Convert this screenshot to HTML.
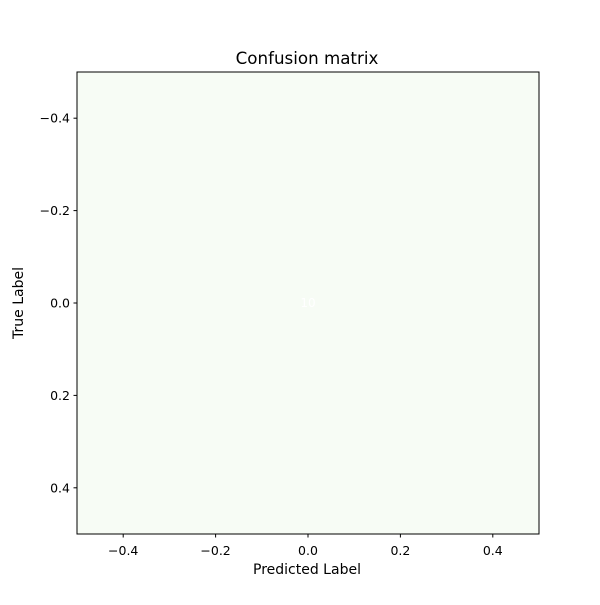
<!DOCTYPE html>
<html><head><meta charset="utf-8"><style>
body{margin:0;background:#fff}
svg text{font-family:"DejaVu Sans","Liberation Sans",sans-serif}
</style></head><body>
<svg id="chart" width="600" height="600" viewBox="0 0 600 600">
<rect width="600" height="600" fill="#fff"/>
<text x="307" y="64" font-size="16.7" text-anchor="middle">Confusion matrix</text>
<g id="cells"></g>
<rect x="77" y="72" width="462" height="462" fill="none" stroke="#000" stroke-width="1"/>
<g id="xt"></g><g id="yt"></g>
<text x="307" y="574" font-size="14" text-anchor="middle">Predicted Label</text>
<text transform="translate(23,303) rotate(-90)" font-size="14" text-anchor="middle">True Label</text>
</svg>
<script>
const matrixValues=[[10]];
const cellLabels=[["10"]];
const xTicks=[-0.4,-0.2,0.0,0.2,0.4];
const yTicks=[-0.4,-0.2,0.0,0.2,0.4];
const NS="http://www.w3.org/2000/svg";
const X=v=>77+(v+0.5)*462, Y=v=>72+(v+0.5)*462;
const cells=document.getElementById('cells');
matrixValues.forEach((row,i)=>row.forEach((v,j)=>{
 const r=document.createElementNS(NS,'rect');
 r.setAttribute('x',X(j-0.5));r.setAttribute('y',Y(i-0.5));
 r.setAttribute('width',X(j+0.5)-X(j-0.5));r.setAttribute('height',Y(i+0.5)-Y(i-0.5));
 r.setAttribute('fill','#f7fcf5');
 
 
 cells.appendChild(r);
 const t=document.createElementNS(NS,'text');
 t.setAttribute('x',X(j));t.setAttribute('y',Y(i)+4);t.setAttribute('font-size','12');
 t.setAttribute('text-anchor','middle');t.setAttribute('fill','#ffffff');
 t.textContent=cellLabels[i][j];
 
 
 cells.appendChild(t);
}));
const fmt=v=>(v<0?'\u2212':'')+Math.abs(v).toFixed(1);
const xt=document.getElementById('xt'),yt=document.getElementById('yt');
xTicks.forEach(v=>{
 const l=document.createElementNS(NS,'line');
 l.setAttribute('x1',X(v));l.setAttribute('x2',X(v));l.setAttribute('y1',534);l.setAttribute('y2',537.5);l.setAttribute('stroke','#000');
 
 
 xt.appendChild(l);
 const t=document.createElementNS(NS,'text');
 t.setAttribute('x',X(v));t.setAttribute('y',555);t.setAttribute('font-size','12.5');t.setAttribute('text-anchor','middle');
 t.textContent=fmt(v);
 
 
 xt.appendChild(t);
});
yTicks.forEach(v=>{
 const l=document.createElementNS(NS,'line');
 l.setAttribute('x1',73.5);l.setAttribute('x2',77);l.setAttribute('y1',Y(v));l.setAttribute('y2',Y(v));l.setAttribute('stroke','#000');
 
 
 yt.appendChild(l);
 const t=document.createElementNS(NS,'text');
 t.setAttribute('x',70);t.setAttribute('y',Y(v)+4.5);t.setAttribute('font-size','12.5');t.setAttribute('text-anchor','end');
 t.textContent=fmt(v);
 
 
 yt.appendChild(t);
});
</script>
</body></html>
